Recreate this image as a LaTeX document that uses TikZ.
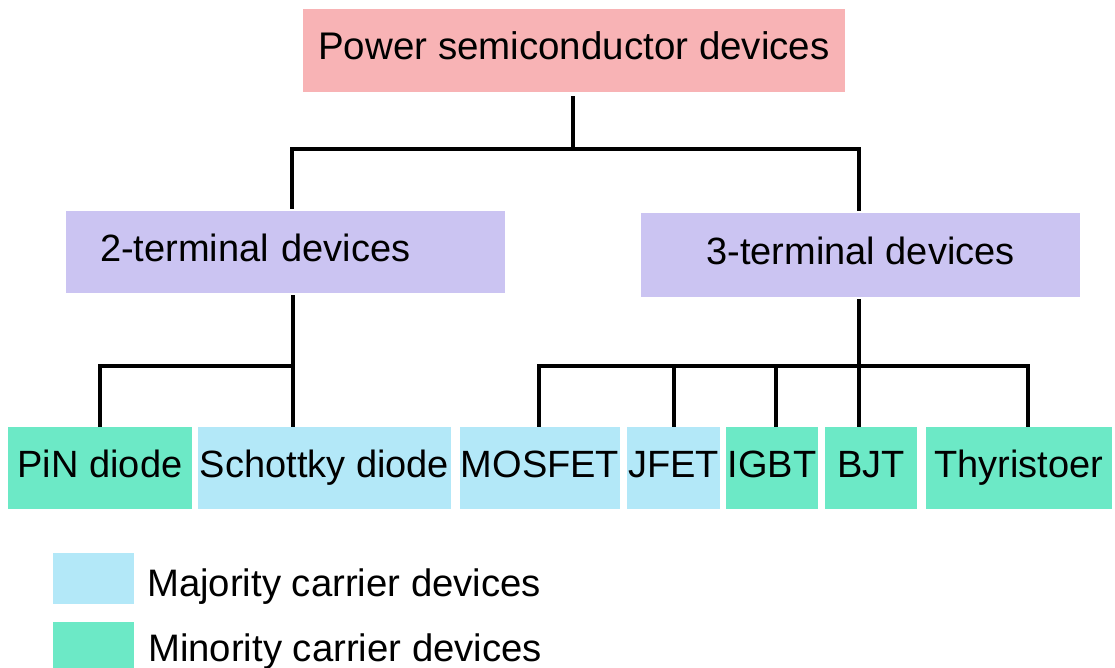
\documentclass[tikz,border=0pt]{standalone}
\usepackage{fontspec}
\setmainfont{Liberation Sans}
\definecolor{pinkbox}{HTML}{F8B3B5}
\definecolor{lavbox}{HTML}{CBC4F2}
\definecolor{majblue}{HTML}{B3E8F8}
\definecolor{mingreen}{HTML}{6CE9C6}
\begin{document}
\begin{tikzpicture}[x=1pt,y=-1pt,
  box/.style={rectangle, inner sep=0pt, text height=27pt, text depth=9pt,
              font=\fontsize{38}{45}\selectfont},
  legtext/.style={inner sep=0pt, font=\fontsize{38.3}{45}\selectfont},
  conn/.style={line width=3.3pt, draw=black}]
\useasboundingbox (0,0) rectangle (1115,668);

% boxes
\node[box, fill=pinkbox, minimum width=542pt, minimum height=83pt, font=\fontsize{38.5}{45}\selectfont] (top) at (574,50.5) {Power semiconductor devices};
\node[box, fill=lavbox, minimum width=439pt, minimum height=82pt, text width=371pt, align=left] (two) at (285.5,252) {2-terminal devices};
\node[box, fill=lavbox, minimum width=439pt, minimum height=84pt] (three) at (860.5,255) {3-terminal devices};

\node[box, fill=mingreen, minimum width=184pt, minimum height=82pt] (pin) at (100,468) {PiN diode};
\node[box, fill=majblue, minimum width=253pt, minimum height=82pt] (sch) at (324.5,468) {Schottky diode};
\node[box, fill=majblue, minimum width=160pt, minimum height=82pt] (mos) at (540,468) {MOSFET};
\node[box, fill=majblue, minimum width=93pt, minimum height=82pt] (jfet) at (673.5,468) {JFET};
\node[box, fill=mingreen, minimum width=92pt, minimum height=82pt] (igbt) at (772,468) {IGBT};
\node[box, fill=mingreen, minimum width=92pt, minimum height=82pt] (bjt) at (871,468) {BJT};
\node[box, fill=mingreen, minimum width=186pt, minimum height=82pt] (thy) at (1019,468) {Thyristoer};

% legend
\node[rectangle, inner sep=0pt, fill=majblue, minimum width=81pt, minimum height=51pt] (majsq) at (93.5,578.5) {};
\node[rectangle, inner sep=0pt, fill=mingreen, minimum width=81pt, minimum height=46pt] (minsq) at (93.5,645) {};
\node[legtext, anchor=base west] (majt) at (147,596) {Majority carrier devices};
\node[legtext, anchor=base west] (mint) at (148,661) {Minority carrier devices};

% level 1 connectors
\coordinate (j0) at (573,149);
\coordinate (j2) at (292,149);
\coordinate (j3) at (859,149);
\draw[conn, shorten <=4pt] (top.south -| j0) -- (j0);
\draw[conn, shorten <=2pt, shorten >=2pt] (two.north -| j2) -- (j2) -- (j3) -- (three.north -| j3);

% 2-terminal branch
\coordinate (k1) at (100,366);
\coordinate (k2) at (293,366);
\draw[conn, shorten <=2pt] (two.south -| k2) -- (sch.north -| k2);
\draw[conn] (pin.north -| k1) -- (k1) -- (k2);

% 3-terminal branch
\coordinate (c3) at (859,366);
\coordinate (cm) at (539,366);
\coordinate (cj) at (674,366);
\coordinate (ci) at (776,366);
\coordinate (ct) at (1028,366);
\draw[conn, shorten <=2pt] (three.south -| c3) -- (bjt.north -| c3);
\draw[conn] (mos.north -| cm) -- (cm) -- (ct) -- (thy.north -| ct);
\draw[conn] (jfet.north -| cj) -- (cj);
\draw[conn] (igbt.north -| ci) -- (ci);
\end{tikzpicture}
\end{document}
